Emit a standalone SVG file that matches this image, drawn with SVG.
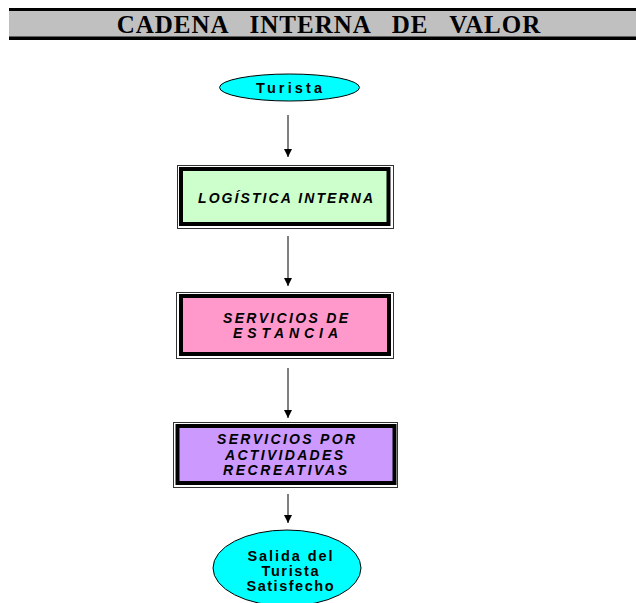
<svg xmlns="http://www.w3.org/2000/svg" width="636" height="603" viewBox="0 0 636 603">
<style>
.outer{fill:none;stroke:#333;stroke-width:1}
.inner{stroke:#000;stroke-width:4}
.bt{font-family:"Liberation Sans",Arial,sans-serif;font-weight:bold;font-style:italic;font-size:14px;fill:#000;text-anchor:middle}
.et{font-family:"Liberation Sans",Arial,sans-serif;font-weight:bold;font-size:14.5px;fill:#000;text-anchor:middle}
.ell{fill:#00FFFF;stroke:#000;stroke-width:1}
.conn{stroke:#000;stroke-width:1;fill:none}
</style>
<defs>
<marker id="ah" viewBox="0 0 10 10" refX="10" refY="5" markerWidth="9" markerHeight="8" markerUnits="userSpaceOnUse" orient="auto">
<path d="M0,0 L10,5 L0,10 z" fill="#000"/>
</marker>
</defs>
<rect width="636" height="603" fill="#fff"/>
<g id="header">
<rect x="9" y="9" width="627" height="28" fill="#C0C0C0"/>
<rect x="9" y="8" width="627" height="3" fill="#000"/>
<rect x="9" y="36.5" width="627" height="3.5" fill="#000"/>
<text x="329" y="32.5" font-family="'Liberation Serif','Times New Roman',serif" font-weight="bold" font-size="25" text-anchor="middle" letter-spacing="1" word-spacing="14">CADENA INTERNA DE VALOR</text>
</g>
<g id="connectors">
<line class="conn" x1="288" y1="115" x2="288" y2="157" marker-end="url(#ah)"/>
<line class="conn" x1="288" y1="236" x2="288" y2="286" marker-end="url(#ah)"/>
<line class="conn" x1="288" y1="368" x2="288" y2="418" marker-end="url(#ah)"/>
<line class="conn" x1="288" y1="494" x2="288" y2="523" marker-end="url(#ah)"/>
</g>
<g id="turista">
<ellipse class="ell" cx="289.5" cy="87.5" rx="70" ry="13.5"/>
<text class="et" x="289" y="93" font-size="15" textLength="66" lengthAdjust="spacing">Turista</text>
</g>
<g id="logistica">
<rect class="outer" x="177.5" y="165.5" width="216" height="63"/>
<rect class="inner" x="181" y="169" width="207.5" height="55" fill="#CCFFCC"/>
<text class="bt" x="285.5" y="203" font-size="15" textLength="175" lengthAdjust="spacing">LOGÍSTICA  INTERNA</text>
</g>
<g id="estancia">
<rect class="outer" x="176.5" y="292.5" width="217" height="66"/>
<rect class="inner" x="181" y="296" width="208" height="58" fill="#FF99CC"/>
<text class="bt" x="285.5" y="323" textLength="125" lengthAdjust="spacing">SERVICIOS  DE</text>
<text class="bt" x="285.5" y="338" textLength="105" lengthAdjust="spacing">ESTANCIA</text>
</g>
<g id="recreativas">
<rect class="outer" x="173.5" y="422.5" width="224" height="65"/>
<rect class="inner" x="177.5" y="426" width="217" height="57" fill="#CC99FF"/>
<text class="bt" x="286" y="444" textLength="138" lengthAdjust="spacing">SERVICIOS  POR</text>
<text class="bt" x="284" y="460" textLength="118" lengthAdjust="spacing">ACTIVIDADES</text>
<text class="bt" x="285" y="475" textLength="124" lengthAdjust="spacing">RECREATIVAS</text>
</g>
<g id="salida">
<ellipse class="ell" cx="287" cy="568" rx="74" ry="38"/>
<text class="et" x="290" y="561" textLength="85" lengthAdjust="spacing">Salida del</text>
<text class="et" x="290" y="576" textLength="57" lengthAdjust="spacing">Turista</text>
<text class="et" x="290" y="591" textLength="87" lengthAdjust="spacing">Satisfecho</text>
</g>
</svg>
